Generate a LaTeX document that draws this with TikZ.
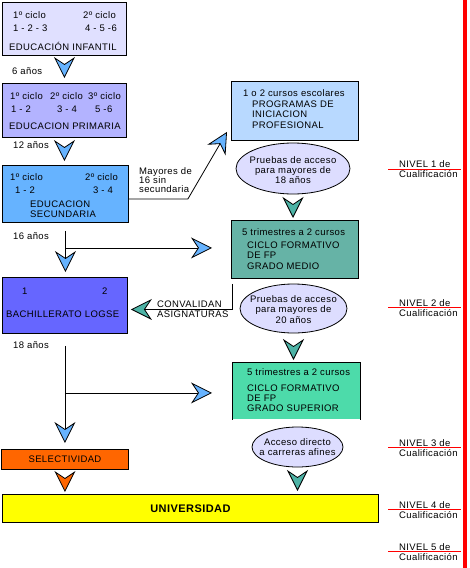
\documentclass[tikz,border=0pt]{standalone}
\usepackage{fontspec}
\setmainfont{Liberation Sans}[LetterSpace=4.0]
\usetikzlibrary{arrows.meta,positioning,shapes.geometric}
\definecolor{infbg}{RGB}{224,224,255}
\definecolor{primbg}{RGB}{179,179,255}
\definecolor{secbg}{RGB}{102,179,255}
\definecolor{pipbg}{RGB}{184,217,255}
\definecolor{ellbg}{RGB}{221,221,255}
\definecolor{gmbg}{RGB}{102,179,166}
\definecolor{gsbg}{RGB}{77,219,170}
\definecolor{bachbg}{RGB}{102,102,255}
\definecolor{selbg}{RGB}{255,102,0}
\definecolor{unibg}{RGB}{255,255,0}
\definecolor{chevblue}{RGB}{102,179,255}
\definecolor{chevteal}{RGB}{77,179,166}
\definecolor{red1}{RGB}{255,0,0}

\begin{document}
\begin{tikzpicture}[x=1pt, y=-1pt,
    font=\fontsize{9.5}{10}\selectfont,
    box/.style={draw, line width=0.9pt, anchor=north west, inner sep=0pt},
    ell/.style={draw, ellipse, line width=0.8pt, fill=ellbg, inner sep=0pt},
    etxt/.style={align=center, inner sep=0pt, font=\fontsize{9.5}{10.3}\selectfont},
    txt/.style={anchor=base west, inner sep=0pt},
    chev/.style={line width=0.8pt, -{Stealth[length=21pt, width=21pt, inset=7pt, fill=#1]}},
    chev/.default=chevblue,
    lvline/.style={draw=red1, line width=0.9pt}
]
    \useasboundingbox (0,0) rectangle (469,568);

    % left column
    \node[box, fill=infbg, minimum width=124pt, minimum height=53pt] (inf) at (2,2) {};
    \node[txt] (inf1a) at (13,18) {1º ciclo};
    \node[txt] (inf2a) at (83,18) {2º ciclo};
    \node[txt] (inf1b) at (13,31) {1 - 2 - 3};
    \node[txt] (inf2b) at (85,31) {4 - 5 -6};
    \node[txt] (infT) at (9,50) {EDUCACIÓN INFANTIL};

    \node[box, fill=primbg, minimum width=124pt, minimum height=54pt] (prim) at (2,83) {};
    \node[txt] (pr1a) at (10,99) {1º ciclo};
    \node[txt] (pr2a) at (50,99) {2º ciclo};
    \node[txt] (pr3a) at (88,99) {3º ciclo};
    \node[txt] (pr1b) at (11,112) {1 - 2};
    \node[txt] (pr2b) at (57,112) {3 - 4};
    \node[txt] (pr3b) at (95,112) {5 -6};
    \node[txt] (prT) at (9,129) {EDUCACION PRIMARIA};

    \node[box, fill=secbg, minimum width=126pt, minimum height=57pt] (sec) at (2,165) {};
    \node[txt] (se1a) at (10,180) {1º ciclo};
    \node[txt] (se2a) at (85,180) {2º ciclo};
    \node[txt] (se1b) at (15,193) {1 - 2};
    \node[txt] (se2b) at (93,193) {3 - 4};
    \node[txt] (seT1) at (30,207) {EDUCACION};
    \node[txt] (seT2) at (30,217) {SECUNDARIA};

    \node[box, fill=bachbg, minimum width=125pt, minimum height=56pt] (bach) at (2,277) {};
    \node[txt] (ba1) at (22,294.5) {1};
    \node[txt] (ba2) at (102,294.5) {2};
    \node[txt] (baT) at (6,317.5) {BACHILLERATO LOGSE};

    \node[box, fill=selbg, minimum width=127pt, minimum height=20pt] (sel) at (1,449) {SELECTIVIDAD};
    \node[box, fill=unibg, minimum width=376pt, minimum height=28pt,
          font=\fontsize{11}{12}\selectfont\bfseries] (univ) at (2,494) {UNIVERSIDAD};

    \node[txt] (a6) at (12,74.5) {6 años};
    \node[txt] (a12) at (13,148) {12 años};
    \node[txt] (a16) at (13,239.5) {16 años};
    \node[txt] (a18) at (13,348.5) {18 años};

    \node[txt] (may1) at (139,174) {Mayores de};
    \node[txt] (may2) at (139,183) {16 sin};
    \node[txt] (may3) at (139,192) {secundaria};

    % right column
    \node[box, fill=pipbg, minimum width=127pt, minimum height=59pt] (pip) at (231,81) {};
    \node[txt] (pipT) at (243,96.5) {1 o 2 cursos escolares};
    \node[txt] (pipA) at (252,107) {PROGRAMAS DE};
    \node[txt] (pipB) at (252,117.5) {INICIACION};
    \node[txt] (pipC) at (252,128) {PROFESIONAL};

    \node[ell, minimum width=114pt, minimum height=51pt] (ell1) at (293,168.5) {};
    \node[etxt] (ell1t) at ([yshift=-1.5pt]ell1.center) {Pruebas de acceso\\para mayores de\\18 años};

    \node[box, fill=gmbg, minimum width=127pt, minimum height=58pt] (gm) at (231,220) {};
    \node[txt] (gmT) at (242,235.5) {5 trimestres a 2 cursos};
    \node[txt] (gmA) at (247,248) {CICLO FORMATIVO};
    \node[txt] (gmB) at (247,258.5) {DE FP};
    \node[txt] (gmC) at (247,269) {GRADO MEDIO};

    \node[ell, minimum width=107pt, minimum height=49pt] (ell2) at (293.5,308.5) {};
    \node[etxt] (ell2t) at ([yshift=-1pt]ell2.center) {Pruebas de acceso\\para mayores de\\20 años};

    % open at the bottom, as in the chart
    \node[box, draw=none, fill=gsbg, minimum width=128pt, minimum height=57pt] (gs) at (232,362) {};
    \draw[line width=0.9pt] (gs.south west) -- (gs.north west) -- (gs.north east) -- (gs.south east);
    \node[txt] (gsT) at (247,375.5) {5 trimestres a 2 cursos};
    \node[txt] (gsA) at (247,391) {CICLO FORMATIVO};
    \node[txt] (gsB) at (247,401) {DE FP};
    \node[txt] (gsC) at (247,411) {GRADO SUPERIOR};

    \node[ell, minimum width=91pt, minimum height=40pt] (ell3) at (297.5,447) {};
    \node[etxt] (ell3t) at (ell3.center) {Acceso directo\\a carreras afines};

    \node[txt] (cvA) at (157,307.5) {CONVALIDAN};
    \node[txt] (cvB) at (157,317.5) {ASIGNATURAS};

    % niveles
    \fill[red1] (462.5,0) rectangle (467,568);
    \foreach \n/\y/\l in {1/167/169, 2/306/307.5, 3/446/447, 4/508/509.5, 5/550/551.5} {
        \node[txt] (niv\n) at (399,\y) {NIVEL \n\ de};
        \node[txt] (cua\n) at (399,\y+10.5) {Cualificación};
        \draw[lvline] (388,\l) -- (461,\l);
    }

    % flechas
    \draw[chev, shorten <=9pt, shorten >=5pt] (inf.south) -- (prim.north);
    \draw[chev, shorten <=10pt, shorten >=4pt] (prim.south) -- (prim.south |- sec.north);

    \coordinate (s16) at ([yshift=-8pt]sec.south);
    \coordinate (s16h) at ([yshift=-25pt]sec.south);
    \draw[chev, shorten >=5pt] (s16) -- (s16 |- bach.north);
    \draw[chev, shorten >=19pt] (s16h) -- (s16h -| gm.west);

    \coordinate (pipIn) at ([shift={(-4,-9)}]pip.south west);
    \draw[chev] ([yshift=-5pt]sec.east) -- ++(59,0) -- (pipIn);

    \draw[chev=chevteal, shorten <=10pt, shorten >=2pt] (ell1.south) -- (ell1.south |- gm.north);

    \coordinate (cv) at ([shift={(1,5)}]gm.south west);
    \draw[chev=chevteal, shorten >=3pt] (cv) |- ([yshift=-4pt]bach.east);

    \coordinate (b18) at ([yshift=-12pt]bach.south);
    \coordinate (b18h) at ([yshift=-59pt]bach.south);
    \draw[chev, shorten >=6pt] (b18) -- (b18 |- sel.north);
    \draw[chev, shorten >=20pt] (b18h) -- (b18h -| gs.west);

    \draw[chev=chevteal, shorten <=13pt, shorten >=2pt] (ell2.south) -- (ell2.south |- gs.north);
    \draw[chev=chevteal, shorten <=10pt, shorten >=3pt] (ell3.south) -- (ell3.south |- univ.north);
    \draw[chev=selbg, shorten <=9pt, shorten >=2pt] (sel.south) -- (sel.south |- univ.north);
\end{tikzpicture}
\end{document}
